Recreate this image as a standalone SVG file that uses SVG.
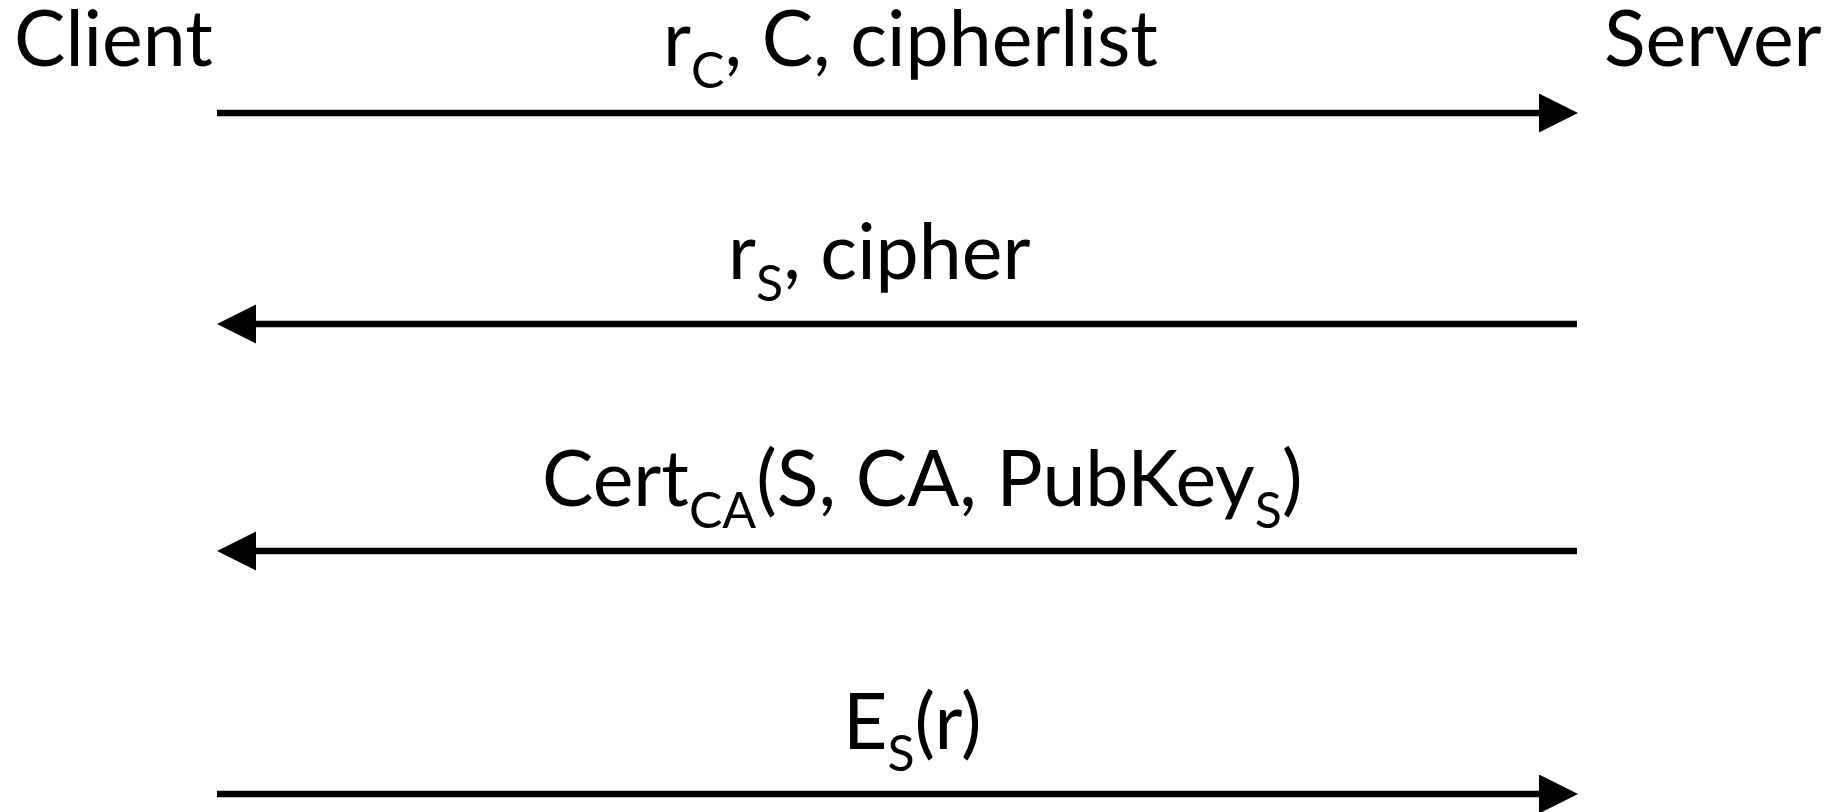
<svg xmlns="http://www.w3.org/2000/svg" width="1841" height="812" viewBox="0 0 1841 812">
<style>
text{font-family:Lato,"Liberation Sans",sans-serif;font-size:77px;fill:#000}
.sub{font-size:50px}
.msg{stroke:#000;stroke-width:6.5;fill:none}
</style>
<defs>
<marker id="ah" markerUnits="userSpaceOnUse" markerWidth="40" markerHeight="40" refX="0" refY="19.5" orient="auto" viewBox="0 0 40 40">
<path d="M0,0 L39,19.5 L0,39 z" fill="#000"/>
</marker>
</defs>
<rect width="1841" height="812" fill="#fff"/>
<g id="client"><text x="14" y="66">Client</text></g>
<g id="server"><text x="1604" y="66">Server</text></g>
<g id="connectors">
<line class="msg" x1="217" y1="113" x2="1539" y2="113" marker-end="url(#ah)"/>
<line class="msg" x1="1577" y1="324" x2="256" y2="324" marker-end="url(#ah)"/>
<line class="msg" x1="1577" y1="551" x2="256" y2="551" marker-end="url(#ah)"/>
<line class="msg" x1="217" y1="794" x2="1539" y2="794" marker-end="url(#ah)"/>
</g>
<g id="labels">
<text x="663" y="66">r<tspan class="sub" dy="22">C</tspan><tspan dy="-22">, C, cipherlist</tspan></text>
<text x="728" y="279">r<tspan class="sub" dy="22">S</tspan><tspan dy="-22">, cipher</tspan></text>
<text x="542" y="506">Cert<tspan class="sub" dy="22">CA</tspan><tspan dy="-22">(S, CA, PubKey</tspan><tspan class="sub" dy="22">S</tspan><tspan dy="-22">)</tspan></text>
<text x="843" y="749">E<tspan class="sub" dy="22">S</tspan><tspan dy="-22">(r)</tspan></text>
</g>
</svg>
